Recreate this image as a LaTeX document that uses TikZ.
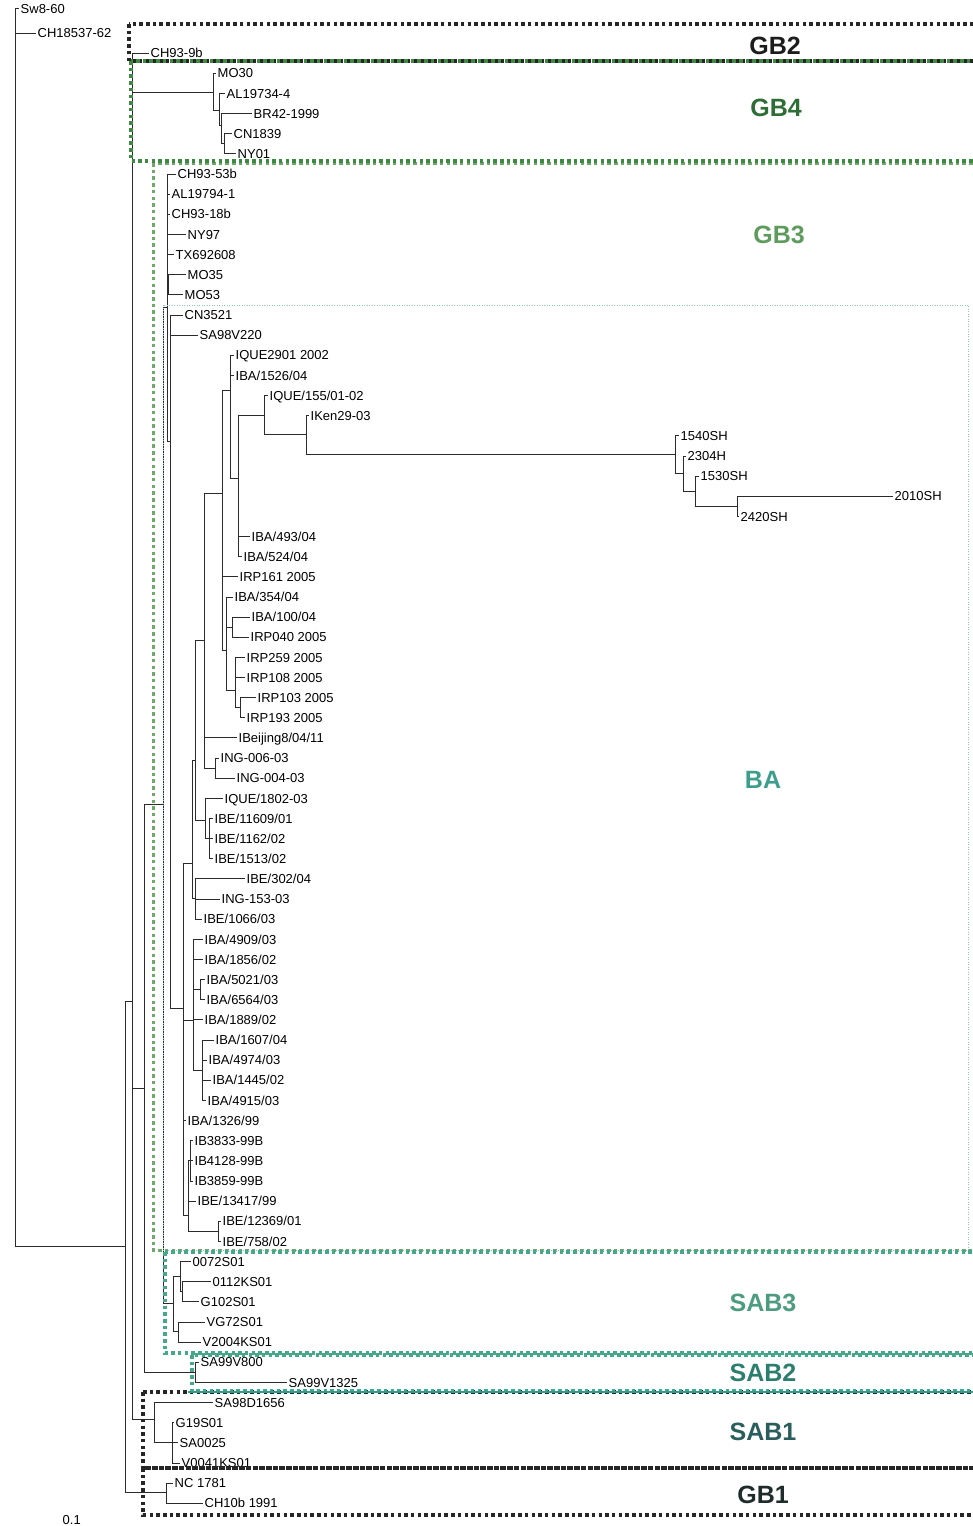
\documentclass[tikz,border=0pt]{standalone}
\usepackage{fontspec}
\setmainfont{Liberation Sans}
\definecolor{treeInk}{HTML}{2B2B2B}
\definecolor{boxBlack}{HTML}{262626}
\definecolor{gbFourGreen}{HTML}{3E8A42}
\definecolor{gbThreeGreen}{HTML}{6DAA6A}
\definecolor{baTeal}{HTML}{8CC9C0}
\definecolor{sabThreeTeal}{HTML}{45A88A}
\definecolor{sabTwoTeal}{HTML}{2E9E8A}
\definecolor{labelGBtwo}{HTML}{1C1C1C}
\definecolor{labelGBfour}{HTML}{2E6E36}
\definecolor{labelGBthree}{HTML}{5E9C5E}
\definecolor{labelBA}{HTML}{3E9E8E}
\definecolor{labelSABthree}{HTML}{4C9C80}
\definecolor{labelSABtwo}{HTML}{2C7E6E}
\definecolor{labelSABone}{HTML}{2A5E5C}
\definecolor{labelGBone}{HTML}{1E2C2C}
\tikzstyle{tree} = [x = 1pt, y = -1pt]
\tikzstyle{branchLine} = [color=treeInk, line width=0.9pt]
\tikzstyle{taxonStyle} = [anchor=west, inner sep=1.5pt, font=\fontsize{13}{13}\selectfont, text height=9.3pt, text depth=0pt]
\tikzstyle{groupText} = [font=\fontsize{25}{25}\selectfont\bfseries]
\tikzstyle{heavyDots} = [line width=3.5pt, dash pattern=on 3.5pt off 3.2pt]
\tikzstyle{lightDots} = [line width=0.9pt, dash pattern=on 1pt off 1.5pt]
\newcommand{\rowSpacing}{20.14}
\newcommand{\taxon}[4]{\node [taxonStyle] (#1) at (#2, 12.9 + \rowSpacing * #3) {#4};}
\newcommand{\cladeNode}[3]{\coordinate (#1) at (#2, #3);}
\newcommand{\clade}[2]{
  \foreach \childNode in {#2} {
    \draw [branchLine] (#1) |- (\childNode);
  }
}
\newcommand{\groupBox}[5]{\draw [#1] (#2, #3) rectangle (#4, #5);}

\begin{document}
\begin{tikzpicture}[tree]
  \useasboundingbox (0,0) rectangle (972,1526);
  \fill [white] (0,0) rectangle (972,1526);

  \taxon{t0}{19}{-0.2}{Sw8-60}
  \taxon{t1}{36}{1}{CH18537-62}
  \taxon{t2}{149}{2}{CH93-9b}
  \taxon{t3}{216}{3}{MO30}
  \taxon{t4}{225}{4}{AL19734-4}
  \taxon{t5}{252}{5}{BR42-1999}
  \taxon{t6}{232}{6}{CN1839}
  \taxon{t7}{236}{7}{NY01}
  \taxon{t8}{176}{8}{CH93-53b}
  \taxon{t9}{170}{9}{AL19794-1}
  \taxon{t10}{170}{10}{CH93-18b}
  \taxon{t11}{186}{11}{NY97}
  \taxon{t12}{174}{12}{TX692608}
  \taxon{t13}{186}{13}{MO35}
  \taxon{t14}{183}{14}{MO53}
  \taxon{t15}{183}{15}{CN3521}
  \taxon{t16}{198}{16}{SA98V220}
  \taxon{t17}{234}{17}{IQUE2901 2002}
  \taxon{t18}{234}{18}{IBA/1526/04}
  \taxon{t19}{268}{19}{IQUE/155/01-02}
  \taxon{t20}{309}{20}{IKen29-03}
  \taxon{t21}{679}{21}{1540SH}
  \taxon{t22}{686}{22}{2304H}
  \taxon{t23}{699}{23}{1530SH}
  \taxon{t24}{893}{24}{2010SH}
  \taxon{t25}{739}{25}{2420SH}
  \taxon{t26}{250}{26}{IBA/493/04}
  \taxon{t27}{242}{27}{IBA/524/04}
  \taxon{t28}{238}{28}{IRP161 2005}
  \taxon{t29}{233}{29}{IBA/354/04}
  \taxon{t30}{250}{30}{IBA/100/04}
  \taxon{t31}{249}{31}{IRP040 2005}
  \taxon{t32}{245}{32}{IRP259 2005}
  \taxon{t33}{245}{33}{IRP108 2005}
  \taxon{t34}{256}{34}{IRP103 2005}
  \taxon{t35}{245}{35}{IRP193 2005}
  \taxon{t36}{237}{36}{IBeijing8/04/11}
  \taxon{t37}{219}{37}{ING-006-03}
  \taxon{t38}{235}{38}{ING-004-03}
  \taxon{t39}{223}{39}{IQUE/1802-03}
  \taxon{t40}{213}{40}{IBE/11609/01}
  \taxon{t41}{213}{41}{IBE/1162/02}
  \taxon{t42}{213}{42}{IBE/1513/02}
  \taxon{t43}{245}{43}{IBE/302/04}
  \taxon{t44}{220}{44}{ING-153-03}
  \taxon{t45}{202}{45}{IBE/1066/03}
  \taxon{t46}{203}{46}{IBA/4909/03}
  \taxon{t47}{203}{47}{IBA/1856/02}
  \taxon{t48}{205}{48}{IBA/5021/03}
  \taxon{t49}{205}{49}{IBA/6564/03}
  \taxon{t50}{203}{50}{IBA/1889/02}
  \taxon{t51}{214}{51}{IBA/1607/04}
  \taxon{t52}{207}{52}{IBA/4974/03}
  \taxon{t53}{211}{53}{IBA/1445/02}
  \taxon{t54}{206}{54}{IBA/4915/03}
  \taxon{t55}{186}{55}{IBA/1326/99}
  \taxon{t56}{193}{56}{IB3833-99B}
  \taxon{t57}{193}{57}{IB4128-99B}
  \taxon{t58}{193}{58}{IB3859-99B}
  \taxon{t59}{196}{59}{IBE/13417/99}
  \taxon{t60}{221}{60}{IBE/12369/01}
  \taxon{t61}{221}{61}{IBE/758/02}
  \taxon{t62}{191}{62}{0072S01}
  \taxon{t63}{211}{63}{0112KS01}
  \taxon{t64}{199}{64}{G102S01}
  \taxon{t65}{205}{65}{VG72S01}
  \taxon{t66}{201}{66}{V2004KS01}
  \taxon{t67}{199}{67}{SA99V800}
  \taxon{t68}{287}{68}{SA99V1325}
  \taxon{t69}{213}{69}{SA98D1656}
  \taxon{t70}{174}{70}{G19S01}
  \taxon{t71}{178}{71}{SA0025}
  \taxon{t72}{180}{72}{V0041KS01}
  \taxon{t73}{173}{73}{NC 1781}
  \taxon{t74}{203}{74}{CH10b 1991}

  \cladeNode{root}{15}{629}
  \cladeNode{ingroup}{125}{1246}
  \cladeNode{core}{132}{1001}
  \cladeNode{gbOne}{166}{1492}
  \cladeNode{gbFour}{213}{92}
  \cladeNode{gbFourA}{219}{110}
  \cladeNode{gbFourB}{221}{125}
  \cladeNode{gbFourC}{224}{143}
  \cladeNode{sabSplit}{144}{1088}
  \cladeNode{gbThreeSab}{163}{804}
  \cladeNode{gbThree}{167}{307}
  \cladeNode{moPair}{168}{284}
  \cladeNode{baRoot}{170}{441}
  \cladeNode{baLower}{183}{1008}
  \cladeNode{beGroup}{192}{863}
  \cladeNode{queGroup}{195}{760}
  \cladeNode{bjGroup}{204}{640}
  \cladeNode{rpGroup}{222}{493}
  \cladeNode{queTop}{230}{390}
  \cladeNode{kenGroup}{238}{478}
  \cladeNode{queTwo}{264}{415}
  \cladeNode{kenNode}{306}{434}
  \cladeNode{shA}{675}{454}
  \cladeNode{shB}{683}{473}
  \cladeNode{shC}{695}{491}
  \cladeNode{shD}{737}{506}
  \cladeNode{rpA}{226}{650}
  \cladeNode{rpB}{232}{627}
  \cladeNode{rpC}{235}{690}
  \cladeNode{rpD}{240}{707}
  \cladeNode{ngPair}{215}{768}
  \cladeNode{queBe}{205}{820}
  \cladeNode{beTrio}{209}{838}
  \cladeNode{beNg}{195}{898}
  \cladeNode{baMid}{193}{1020}
  \cladeNode{baPair}{200}{989}
  \cladeNode{baQuad}{202}{1070}
  \cladeNode{ibGroup}{188}{1215}
  \cladeNode{ibTrio}{190}{1160}
  \cladeNode{bePair}{218}{1231}
  \cladeNode{sabThree}{173}{1303}
  \cladeNode{sabThreeA}{180}{1276}
  \cladeNode{sabThreeB}{182}{1291}
  \cladeNode{sabThreeC}{178}{1331}
  \cladeNode{sabTwo}{195}{1372}
  \cladeNode{sabOne}{154}{1419}
  \cladeNode{sabOneA}{172}{1442}

  \clade{root}{t0, t1, ingroup}
  \clade{ingroup}{core, gbOne}
  \clade{gbOne}{t73, t74}
  \clade{core}{t2, gbFour, sabSplit, sabOne}
  \clade{gbFour}{t3, gbFourA}
  \clade{gbFourA}{t4, gbFourB}
  \clade{gbFourB}{t5, gbFourC}
  \clade{gbFourC}{t6, t7}
  \clade{sabSplit}{gbThreeSab, sabTwo}
  \clade{gbThreeSab}{gbThree, sabThree}
  \clade{gbThree}{t8, t9, t10, t11, t12, moPair, baRoot}
  \clade{moPair}{t13, t14}
  \clade{baRoot}{t15, t16, baLower}
  \clade{baLower}{beGroup, baMid, t55, ibGroup}
  \clade{beGroup}{queGroup, beNg}
  \clade{queGroup}{bjGroup, queBe}
  \clade{bjGroup}{rpGroup, t36, ngPair}
  \clade{rpGroup}{queTop, t28, rpA}
  \clade{queTop}{t17, t18, kenGroup}
  \clade{kenGroup}{queTwo, t26, t27}
  \clade{queTwo}{t19, kenNode}
  \clade{kenNode}{t20, shA}
  \clade{shA}{t21, shB}
  \clade{shB}{t22, shC}
  \clade{shC}{t23, shD}
  \clade{shD}{t24, t25}
  \clade{rpA}{t29, rpB, rpC}
  \clade{rpB}{t30, t31}
  \clade{rpC}{t32, t33, rpD}
  \clade{rpD}{t34, t35}
  \clade{ngPair}{t37, t38}
  \clade{queBe}{t39, beTrio}
  \clade{beTrio}{t40, t41, t42}
  \clade{beNg}{t43, t44, t45}
  \clade{baMid}{t46, t47, baPair, t50, baQuad}
  \clade{baPair}{t48, t49}
  \clade{baQuad}{t51, t52, t53, t54}
  \clade{ibGroup}{ibTrio, t59, bePair}
  \clade{ibTrio}{t56, t57, t58}
  \clade{bePair}{t60, t61}
  \clade{sabThree}{sabThreeA, sabThreeC}
  \clade{sabThreeA}{t62, sabThreeB}
  \clade{sabThreeB}{t63, t64}
  \clade{sabThreeC}{t65, t66}
  \clade{sabTwo}{t67, t68}
  \clade{sabOne}{t69, sabOneA}
  \clade{sabOneA}{t70, t71, t72}

  \groupBox{heavyDots, gbThreeGreen, line width=3pt}{153}{163}{990}{1250}
  \groupBox{lightDots, baTeal}{163}{305}{968}{1250}
  \groupBox{heavyDots, boxBlack}{129}{24}{990}{61}
  \groupBox{heavyDots, gbFourGreen, line width=3.8pt}{131}{61}{990}{161}
  \groupBox{heavyDots, sabThreeTeal, line width=3.8pt}{165}{1252}{990}{1353}
  \groupBox{heavyDots, boxBlack}{143}{1392}{990}{1468}
  \groupBox{heavyDots, boxBlack}{143}{1468}{990}{1515}
  \groupBox{heavyDots, sabThreeTeal, line width=3.8pt}{192}{1355}{990}{1391}
  \draw [sabTwoTeal, line width=2.4pt] (188, 1392) -- (990, 1392);

  \node [groupText, color=labelGBtwo] (gbTwoText) at (775, 46) {GB2};
  \node [groupText, color=labelGBfour] (gbFourText) at (776, 108) {GB4};
  \node [groupText, color=labelGBthree] (gbThreeText) at (779, 235) {GB3};
  \node [groupText, color=labelBA] (baText) at (763, 780) {BA};
  \node [groupText, color=labelSABthree] (sabThreeText) at (763, 1303) {SAB3};
  \node [groupText, color=labelSABtwo] (sabTwoText) at (763, 1373) {SAB2};
  \node [groupText, color=labelSABone] (sabOneText) at (763, 1432) {SAB1};
  \node [groupText, color=labelGBone] (gbOneText) at (763, 1495) {GB1};
  \node [taxonStyle] (scaleText) at (61, 1520) {0.1};
\end{tikzpicture}
\end{document}
